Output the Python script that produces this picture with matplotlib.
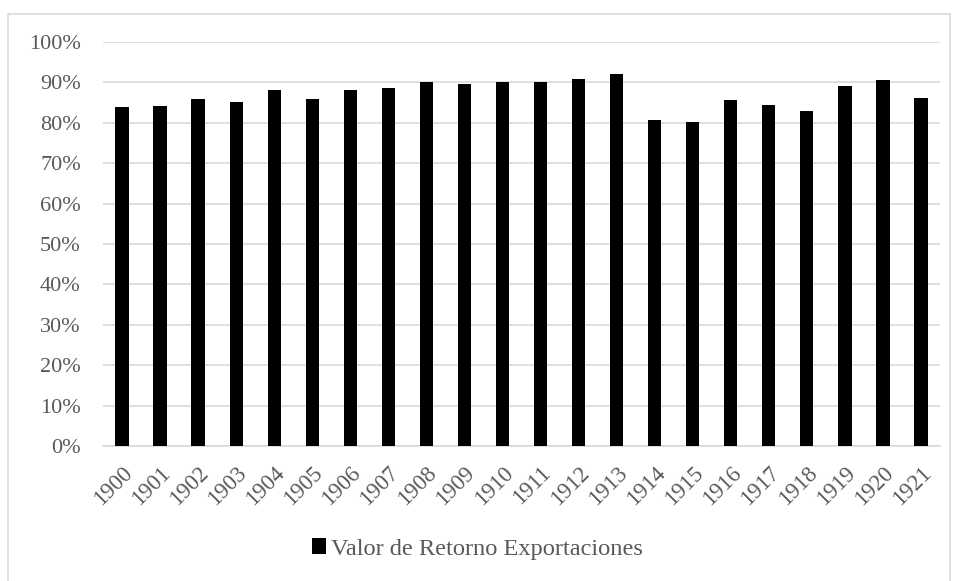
import matplotlib.pyplot as plt
from matplotlib.patches import Rectangle
from matplotlib.ticker import PercentFormatter, MultipleLocator

plt.rcParams['font.family'] = ['Liberation Serif', 'DejaVu Serif']

# datos
anios = [str(a) for a in range(1900, 1922)]
valores = [0.839, 0.842, 0.860, 0.851, 0.882, 0.858, 0.881, 0.886, 0.902, 0.895,
           0.901, 0.900, 0.908, 0.920, 0.806, 0.803, 0.856, 0.844, 0.829, 0.892,
           0.906, 0.862]
serie = "Valor de Retorno Exportaciones"

fig = plt.figure(figsize=(9.55, 5.81), dpi=100)
ax = fig.add_axes([103/955, 1-446/581, 837/955, 404/581])

x = range(len(anios))
ax.bar(x, valores, width=0.35, color='black', label=serie, zorder=3)

ax.set_ylim(0, 1)
ax.set_xlim(-0.5, len(anios) - 0.5)
ax.yaxis.set_major_locator(MultipleLocator(0.1))
ax.yaxis.set_major_formatter(PercentFormatter(1.0, decimals=0))
ax.grid(axis='y', color='#d9d9d9', linewidth=1.2, zorder=0)

for s in ['top', 'right', 'left']:
    ax.spines[s].set_visible(False)
ax.spines['bottom'].set_color('#d9d9d9')
ax.spines['bottom'].set_linewidth(1.2)

ax.set_xticks(list(x))
ax.set_xticklabels(anios, rotation=45, ha='right', rotation_mode='anchor')
ax.tick_params(axis='both', length=0, labelsize=16, colors='#595959')
ax.tick_params(axis='x', pad=12, labelsize=16.5)
ax.tick_params(axis='y', pad=16)

fig.legend(loc='center', bbox_to_anchor=(0.5, 1-549/581), frameon=False,
           fontsize=17.6, handlelength=0.6, handleheight=0.6, handletextpad=0.2,
           labelcolor='#595959')

# borde exterior del grafico
fig.patches.append(Rectangle((8/955, -0.01), 942/955, 1.01 - 14/581,
                             transform=fig.transFigure,
                             fill=False, edgecolor='#d9d9d9', linewidth=1.2))

fig.savefig('out.png', dpi=100)
